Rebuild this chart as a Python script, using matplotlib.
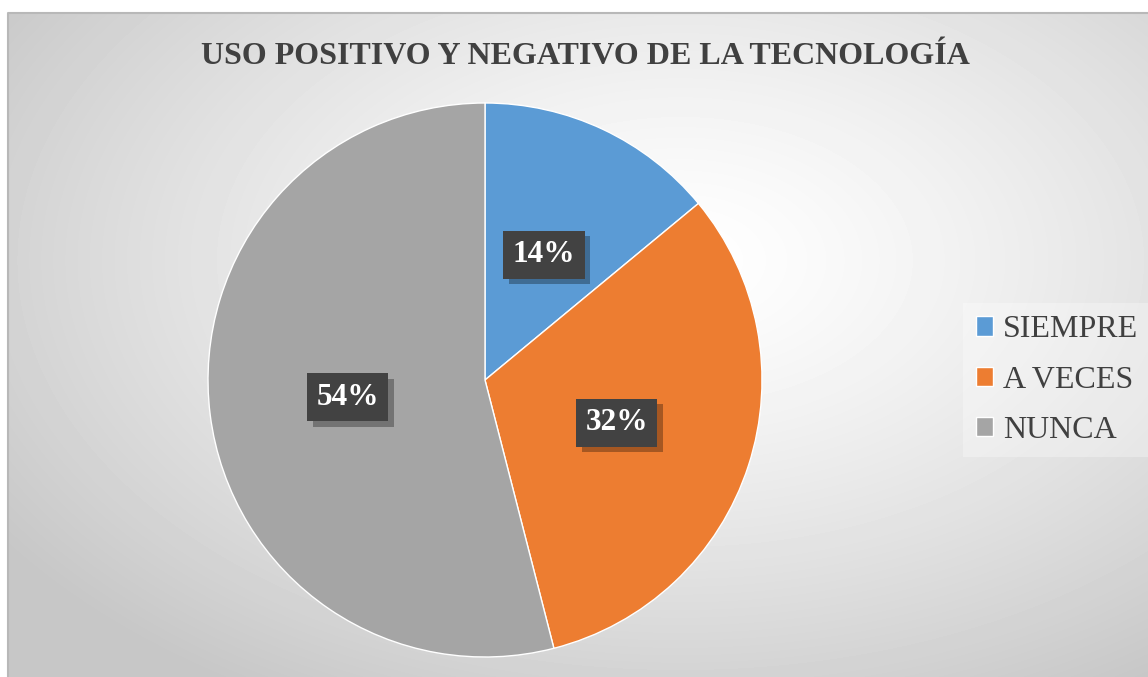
import numpy as np
import matplotlib.pyplot as plt
import matplotlib as mpl
import matplotlib.patheffects as pe

mpl.rcParams['font.family'] = ['Liberation Serif', 'DejaVu Serif']

# datos
categorias = ['SIEMPRE', 'A VECES', 'NUNCA']
porcentajes = [14, 32, 54]
colores = ['#5B9BD5', '#ED7D31', '#A5A5A5']
titulo = 'USO POSITIVO Y NEGATIVO DE LA TECNOLOGÍA'

W, H = 1148, 677
fig = plt.figure(figsize=(W / 100, H / 100), dpi=100)
fig.patch.set_facecolor('white')

# fondo con degradado radial
x0, y0 = 8, 13
bg = fig.add_axes([x0 / W, 0, 1 - x0 / W, (H - y0) / H])
bg.set_axis_off()
gx = np.arange(x0, W)
gy = np.arange(y0, H)
XX, YY = np.meshgrid(gx, gy)
d = np.sqrt(((XX - 680) / 680.0) ** 2 + ((YY - 260) / 420.0) ** 2)
val = 1 - 0.22 * np.clip(d / 1.2, 0, 1) ** 1.3
bg.imshow(val, cmap='gray', vmin=0, vmax=1, aspect='auto',
          extent=[0, 1, 0, 1], origin='upper')
bg.set_xlim(0, 1)
bg.set_ylim(0, 1)
bg.plot([0, 0, 1], [0, 1, 1], color='#b8b8b8', lw=1.5, clip_on=False)

fig.text(585 / W, 1 - 56 / H, titulo, ha='center', va='center',
         fontsize=23, fontweight='bold', color='#404040')

# pastel
cx, cy, r = 485, 380, 277
ax = fig.add_axes([(cx - r) / W, 1 - (cy + r) / H, 2 * r / W, 2 * r / H])
ax.set_axis_off()
wedges, textos, autot = ax.pie(porcentajes, colors=colores, startangle=90,
                               counterclock=False, autopct='%d%%',
                               pctdistance=0.5, radius=1,
                               wedgeprops=dict(linewidth=1, edgecolor='white'),
                               textprops=dict(color='white', fontsize=22.5,
                                              fontweight='bold'))
ax.set_xlim(-1, 1)
ax.set_ylim(-1, 1)
for t in autot:
    t.set_bbox(dict(boxstyle='square,pad=0.3', facecolor='#424242',
                    edgecolor='none'))
    t.get_bbox_patch().set_path_effects(
        [pe.SimplePatchShadow(offset=(4, -4), shadow_rgbFace='black', alpha=0.3),
         pe.Normal()])

leg = fig.legend(wedges, categorias, loc='center left',
                 bbox_to_anchor=(963 / W, 1 - 380 / H), borderaxespad=0,
                 fontsize=23, frameon=True, handlelength=0.55, handleheight=0.55,
                 handletextpad=0.3, labelspacing=0.66, borderpad=0.4,
                 labelcolor='#404040')
leg.get_frame().set_facecolor('white')
leg.get_frame().set_alpha(0.3)
leg.get_frame().set_edgecolor('none')
leg.get_frame().set_boxstyle('square', pad=0)

fig.savefig('out.png', dpi=100)
